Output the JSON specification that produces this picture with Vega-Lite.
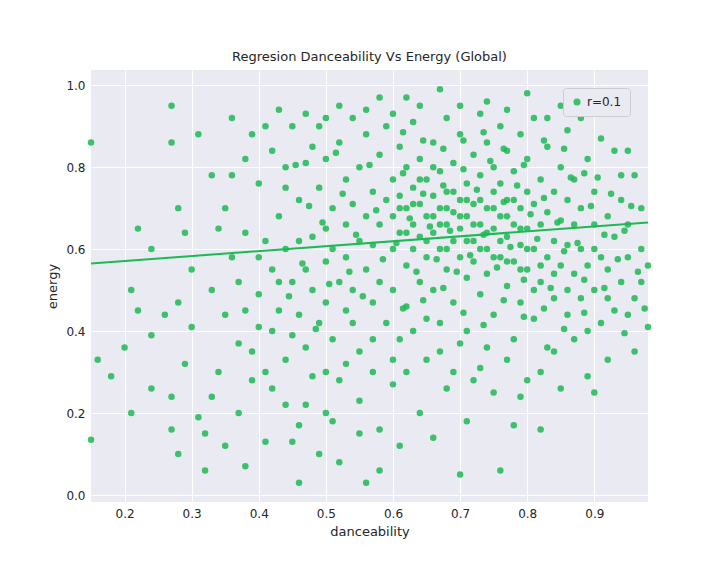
{
  "$schema": "https://vega.github.io/schema/vega-lite/v6.json",
  "autosize": "none",
  "width": 557,
  "height": 432,
  "padding": {"left": 91, "top": 70, "right": 72, "bottom": 74},
  "background": "white",
  "title": {"text": "Regresion Danceability Vs Energy (Global)", "fontSize": 13, "fontWeight": "normal", "font": "DejaVu Sans", "color": "#262626", "offset": 6},
  "datasets": {
    "pts": [
      {"d":0.15,"e":0.86},{"d":0.15,"e":0.135},{"d":0.16,"e":0.33},{"d":0.18,"e":0.29},{"d":0.2,"e":0.36},{"d":0.21,"e":0.5},{"d":0.21,"e":0.2},{"d":0.22,"e":0.65},{"d":0.22,"e":0.45},{"d":0.24,"e":0.6},{"d":0.24,"e":0.26},{"d":0.24,"e":0.39},{"d":0.26,"e":0.44},{"d":0.27,"e":0.95},{"d":0.27,"e":0.86},{"d":0.27,"e":0.16},{"d":0.27,"e":0.24},{"d":0.28,"e":0.1},{"d":0.28,"e":0.7},{"d":0.28,"e":0.47},{"d":0.29,"e":0.64},{"d":0.29,"e":0.32},{"d":0.3,"e":0.55},{"d":0.3,"e":0.41},{"d":0.31,"e":0.88},{"d":0.31,"e":0.19},{"d":0.32,"e":0.06},{"d":0.32,"e":0.15},{"d":0.33,"e":0.78},{"d":0.33,"e":0.5},{"d":0.33,"e":0.24},{"d":0.34,"e":0.65},{"d":0.34,"e":0.3},{"d":0.35,"e":0.44},{"d":0.35,"e":0.12},{"d":0.36,"e":0.92},{"d":0.36,"e":0.58},{"d":0.37,"e":0.2},{"d":0.38,"e":0.07},{"d":0.38,"e":0.82},{"d":0.39,"e":0.35},{"d":0.4,"e":0.49},{"d":0.41,"e":0.62},{"d":0.41,"e":0.13},{"d":0.42,"e":0.26},{"d":0.43,"e":0.94},{"d":0.44,"e":0.75},{"d":0.45,"e":0.39},{"d":0.45,"e":0.13},{"d":0.46,"e":0.03},{"d":0.47,"e":0.55},{"d":0.47,"e":0.22},{"d":0.48,"e":0.85},{"d":0.49,"e":0.1},{"d":0.5,"e":0.3},{"d":0.5,"e":0.65},{"d":0.51,"e":0.18},{"d":0.52,"e":0.08},{"d":0.53,"e":0.45},{"d":0.54,"e":0.92},{"d":0.55,"e":0.23},{"d":0.56,"e":0.03},{"d":0.57,"e":0.38},{"d":0.58,"e":0.06},{"d":0.58,"e":0.16},{"d":0.6,"e":0.27},{"d":0.61,"e":0.12},{"d":0.62,"e":0.97},{"d":0.64,"e":0.2},{"d":0.66,"e":0.14},{"d":0.68,"e":0.26},{"d":0.7,"e":0.05},{"d":0.71,"e":0.18},{"d":0.73,"e":0.31},{"d":0.76,"e":0.06},{"d":0.78,"e":0.17},{"d":0.8,"e":0.28},{"d":0.82,"e":0.16},{"d":0.85,"e":0.26},{"d":0.87,"e":0.38},{"d":0.89,"e":0.29},{"d":0.9,"e":0.25},{"d":0.92,"e":0.33},{"d":0.95,"e":0.44},{"d":0.96,"e":0.35},{"d":0.97,"e":0.52},{"d":0.98,"e":0.41},{"d":0.93,"e":0.84},{"d":0.95,"e":0.84},{"d":0.9,"e":0.6},{"d":0.97,"e":0.6},{"d":0.94,"e":0.72},{"d":0.96,"e":0.78},{"d":0.92,"e":0.48},{"d":0.88,"e":0.92},{"d":0.85,"e":0.95},{"d":0.8,"e":0.98},{"d":0.74,"e":0.96},{"d":0.67,"e":0.99},{"d":0.58,"e":0.97},
      {"d":0.35,"e":0.7},{"d":0.37,"e":0.52},{"d":0.38,"e":0.64},{"d":0.39,"e":0.88},{"d":0.4,"e":0.41},{"d":0.4,"e":0.76},{"d":0.41,"e":0.3},{"d":0.42,"e":0.55},{"d":0.42,"e":0.84},{"d":0.43,"e":0.68},{"d":0.43,"e":0.45},{"d":0.44,"e":0.33},{"d":0.44,"e":0.6},{"d":0.45,"e":0.9},{"d":0.45,"e":0.52},{"d":0.46,"e":0.72},{"d":0.46,"e":0.44},{"d":0.47,"e":0.81},{"d":0.47,"e":0.36},{"d":0.48,"e":0.63},{"d":0.48,"e":0.5},{"d":0.49,"e":0.75},{"d":0.49,"e":0.42},{"d":0.49,"e":0.9},{"d":0.5,"e":0.57},{"d":0.5,"e":0.82},{"d":0.5,"e":0.47},{"d":0.51,"e":0.7},{"d":0.51,"e":0.38},{"d":0.51,"e":0.6},{"d":0.52,"e":0.86},{"d":0.52,"e":0.52},{"d":0.52,"e":0.28},{"d":0.53,"e":0.66},{"d":0.53,"e":0.77},{"d":0.53,"e":0.58},{"d":0.54,"e":0.42},{"d":0.54,"e":0.71},{"d":0.54,"e":0.5},{"d":0.55,"e":0.8},{"d":0.55,"e":0.62},{"d":0.55,"e":0.35},{"d":0.56,"e":0.68},{"d":0.56,"e":0.55},{"d":0.56,"e":0.88},{"d":0.57,"e":0.74},{"d":0.57,"e":0.47},{"d":0.57,"e":0.61},{"d":0.58,"e":0.83},{"d":0.58,"e":0.66},{"d":0.58,"e":0.52},{"d":0.59,"e":0.72},{"d":0.59,"e":0.42},{"d":0.59,"e":0.9},{"d":0.6,"e":0.6},{"d":0.6,"e":0.77},{"d":0.6,"e":0.68},{"d":0.6,"e":0.5},{"d":0.61,"e":0.85},{"d":0.61,"e":0.64},{"d":0.61,"e":0.73},{"d":0.61,"e":0.38},{"d":0.62,"e":0.56},{"d":0.62,"e":0.7},{"d":0.62,"e":0.8},{"d":0.62,"e":0.46},{"d":0.63,"e":0.66},{"d":0.63,"e":0.75},{"d":0.63,"e":0.6},{"d":0.63,"e":0.91},{"d":0.64,"e":0.71},{"d":0.64,"e":0.52},{"d":0.64,"e":0.82},{"d":0.64,"e":0.63},{"d":0.65,"e":0.68},{"d":0.65,"e":0.77},{"d":0.65,"e":0.58},{"d":0.65,"e":0.43},{"d":0.66,"e":0.73},{"d":0.66,"e":0.64},{"d":0.66,"e":0.86},{"d":0.66,"e":0.5},{"d":0.67,"e":0.7},{"d":0.67,"e":0.6},{"d":0.67,"e":0.79},{"d":0.67,"e":0.35},{"d":0.68,"e":0.66},{"d":0.68,"e":0.74},{"d":0.68,"e":0.55},{"d":0.68,"e":0.92},{"d":0.69,"e":0.69},{"d":0.69,"e":0.62},{"d":0.69,"e":0.81},{"d":0.69,"e":0.47},{"d":0.7,"e":0.72},{"d":0.7,"e":0.58},{"d":0.7,"e":0.65},{"d":0.7,"e":0.88},{"d":0.71,"e":0.76},{"d":0.71,"e":0.53},{"d":0.71,"e":0.68},{"d":0.71,"e":0.4},{"d":0.72,"e":0.62},{"d":0.72,"e":0.83},{"d":0.72,"e":0.71},{"d":0.72,"e":0.57},{"d":0.73,"e":0.66},{"d":0.73,"e":0.78},{"d":0.73,"e":0.49},{"d":0.73,"e":0.93},{"d":0.74,"e":0.7},{"d":0.74,"e":0.6},{"d":0.74,"e":0.86},{"d":0.74,"e":0.54},{"d":0.75,"e":0.74},{"d":0.75,"e":0.65},{"d":0.75,"e":0.8},{"d":0.75,"e":0.44},{"d":0.76,"e":0.68},{"d":0.76,"e":0.58},{"d":0.76,"e":0.9},{"d":0.76,"e":0.76},{"d":0.77,"e":0.63},{"d":0.77,"e":0.72},{"d":0.77,"e":0.51},{"d":0.77,"e":0.84},{"d":0.78,"e":0.66},{"d":0.78,"e":0.57},{"d":0.78,"e":0.79},{"d":0.78,"e":0.38},{"d":0.79,"e":0.7},{"d":0.79,"e":0.61},{"d":0.79,"e":0.88},{"d":0.79,"e":0.47},{"d":0.8,"e":0.74},{"d":0.8,"e":0.55},{"d":0.8,"e":0.65},{"d":0.8,"e":0.82},{"d":0.81,"e":0.6},{"d":0.81,"e":0.71},{"d":0.81,"e":0.43},{"d":0.81,"e":0.92},{"d":0.82,"e":0.66},{"d":0.82,"e":0.52},{"d":0.82,"e":0.77},{"d":0.83,"e":0.58},{"d":0.83,"e":0.69},{"d":0.83,"e":0.85},{"d":0.83,"e":0.36},{"d":0.84,"e":0.62},{"d":0.84,"e":0.74},{"d":0.84,"e":0.48},{"d":0.85,"e":0.67},{"d":0.85,"e":0.56},{"d":0.85,"e":0.8},{"d":0.86,"e":0.61},{"d":0.86,"e":0.72},{"d":0.86,"e":0.44},{"d":0.86,"e":0.89},{"d":0.87,"e":0.54},{"d":0.87,"e":0.66},{"d":0.87,"e":0.77},{"d":0.88,"e":0.6},{"d":0.88,"e":0.48},{"d":0.88,"e":0.7},{"d":0.89,"e":0.82},{"d":0.89,"e":0.56},{"d":0.89,"e":0.4},{"d":0.9,"e":0.66},{"d":0.9,"e":0.74},{"d":0.9,"e":0.5},{"d":0.91,"e":0.58},{"d":0.91,"e":0.87},{"d":0.91,"e":0.42},{"d":0.92,"e":0.68},{"d":0.92,"e":0.55},{"d":0.93,"e":0.63},{"d":0.93,"e":0.45},{"d":0.94,"e":0.52},{"d":0.94,"e":0.78},{"d":0.95,"e":0.58},{"d":0.95,"e":0.66},{"d":0.96,"e":0.48},{"d":0.97,"e":0.7},{"d":0.98,"e":0.56},
      {"d":0.6,"e":0.33},{"d":0.62,"e":0.3},{"d":0.63,"e":0.4},{"d":0.65,"e":0.33},{"d":0.67,"e":0.42},{"d":0.69,"e":0.3},{"d":0.7,"e":0.37},{"d":0.72,"e":0.28},{"d":0.74,"e":0.36},{"d":0.75,"e":0.25},{"d":0.77,"e":0.33},{"d":0.79,"e":0.24},{"d":0.82,"e":0.3},{"d":0.84,"e":0.35},{"d":0.57,"e":0.3},{"d":0.55,"e":0.15},{"d":0.53,"e":0.32},{"d":0.5,"e":0.2},{"d":0.48,"e":0.29},{"d":0.46,"e":0.17},{"d":0.44,"e":0.22},{"d":0.42,"e":0.4},{"d":0.39,"e":0.28},{"d":0.37,"e":0.37},{"d":0.36,"e":0.78},{"d":0.38,"e":0.45},{"d":0.4,"e":0.58},{"d":0.41,"e":0.9},{"d":0.43,"e":0.52},{"d":0.44,"e":0.8},{"d":0.46,"e":0.62},{"d":0.47,"e":0.93},{"d":0.5,"e":0.92},{"d":0.52,"e":0.95},{"d":0.56,"e":0.94},{"d":0.6,"e":0.93},{"d":0.64,"e":0.95},{"d":0.7,"e":0.95},{"d":0.77,"e":0.94},{"d":0.83,"e":0.92},{"d":0.65,"e":0.62},{"d":0.66,"e":0.68},{"d":0.67,"e":0.66},{"d":0.68,"e":0.7},{"d":0.69,"e":0.74},{"d":0.7,"e":0.68},{"d":0.71,"e":0.62},{"d":0.72,"e":0.66},{"d":0.73,"e":0.72},{"d":0.74,"e":0.64},{"d":0.75,"e":0.7},{"d":0.76,"e":0.62},{"d":0.77,"e":0.68},{"d":0.78,"e":0.72},{"d":0.79,"e":0.65},{"d":0.8,"e":0.6},{"d":0.61,"e":0.7},{"d":0.62,"e":0.64},{"d":0.63,"e":0.71},{"d":0.64,"e":0.77},{"d":0.66,"e":0.8},{"d":0.68,"e":0.6},{"d":0.71,"e":0.72},{"d":0.73,"e":0.6},{"d":0.75,"e":0.58},{"d":0.77,"e":0.57},{"d":0.79,"e":0.55},{"d":0.81,"e":0.5},{"d":0.82,"e":0.56},{"d":0.84,"e":0.54},{"d":0.86,"e":0.5},
      {"d":0.605,"e":0.615},{"d":0.615,"e":0.785},{"d":0.625,"e":0.675},{"d":0.635,"e":0.545},{"d":0.645,"e":0.735},{"d":0.655,"e":0.655},{"d":0.665,"e":0.575},{"d":0.675,"e":0.755},{"d":0.685,"e":0.645},{"d":0.695,"e":0.545},{"d":0.705,"e":0.795},{"d":0.715,"e":0.585},{"d":0.725,"e":0.745},{"d":0.735,"e":0.635},{"d":0.745,"e":0.815},{"d":0.755,"e":0.555},{"d":0.765,"e":0.715},{"d":0.775,"e":0.605},{"d":0.785,"e":0.755},{"d":0.795,"e":0.525},{"d":0.805,"e":0.685},{"d":0.815,"e":0.625},{"d":0.825,"e":0.725},{"d":0.835,"e":0.505},{"d":0.845,"e":0.665},{"d":0.855,"e":0.595},{"d":0.865,"e":0.775},{"d":0.875,"e":0.615},{"d":0.885,"e":0.525},{"d":0.895,"e":0.705},
      {"d":0.585,"e":0.575},{"d":0.575,"e":0.695},{"d":0.565,"e":0.805},{"d":0.555,"e":0.485},{"d":0.545,"e":0.635},{"d":0.535,"e":0.545},{"d":0.525,"e":0.735},{"d":0.515,"e":0.835},{"d":0.505,"e":0.515},{"d":0.495,"e":0.665},{"d":0.485,"e":0.405},{"d":0.475,"e":0.705},{"d":0.465,"e":0.565},{"d":0.455,"e":0.805},{"d":0.445,"e":0.485},
      {"d":0.615,"e":0.885},{"d":0.645,"e":0.865},{"d":0.675,"e":0.845},{"d":0.705,"e":0.865},{"d":0.735,"e":0.885},{"d":0.765,"e":0.845},{"d":0.795,"e":0.805},{"d":0.825,"e":0.865},{"d":0.855,"e":0.845},{"d":0.885,"e":0.785},
      {"d":0.615,"e":0.455},{"d":0.645,"e":0.475},{"d":0.675,"e":0.505},{"d":0.705,"e":0.445},{"d":0.735,"e":0.415},{"d":0.765,"e":0.475},{"d":0.795,"e":0.435},{"d":0.825,"e":0.455},{"d":0.855,"e":0.405},{"d":0.885,"e":0.445},{"d":0.915,"e":0.505},{"d":0.935,"e":0.575},{"d":0.945,"e":0.645},{"d":0.965,"e":0.545},{"d":0.915,"e":0.635},{"d":0.905,"e":0.775},{"d":0.925,"e":0.735},{"d":0.945,"e":0.395},{"d":0.955,"e":0.705},{"d":0.975,"e":0.455}
    ],
    "fit": [{"d":0.15,"e":0.565},{"d":0.98,"e":0.665}]
  },
  "layer": [
    {
      "data": {"name": "pts"},
      "mark": {"type": "circle", "size": 42, "opacity": 0.85},
      "encoding": {
        "x": {"field": "d", "type": "quantitative", "scale": {"domain": [0.15, 0.98], "nice": false, "zero": false}, "axis": {"title": "danceability", "values": [0.2,0.3,0.4,0.5,0.6,0.7,0.8,0.9], "format": ".1f"}},
        "y": {"field": "e", "type": "quantitative", "scale": {"domain": [-0.017, 1.037], "nice": false}, "axis": {"title": "energy", "values": [0,0.2,0.4,0.6,0.8,1.0], "format": ".1f"}},
        "color": {"datum": "r=0.1", "type": "nominal", "scale": {"range": ["#1DB954"]}, "legend": {"title": null, "orient": "top-right", "fillColor": "#EAEAF2", "strokeColor": "#cccccc", "padding": 8, "cornerRadius": 3, "labelFontSize": 12, "symbolSize": 50, "symbolOpacity": 0.85}}
      }
    },
    {
      "data": {"name": "fit"},
      "mark": {"type": "line", "color": "#1DB954", "strokeWidth": 2},
      "encoding": {"x": {"field": "d", "type": "quantitative"}, "y": {"field": "e", "type": "quantitative"}}
    }
  ],
  "config": {
    "font": "DejaVu Sans",
    "view": {"fill": "#EAEAF2", "stroke": null},
    "axis": {"grid": true, "gridColor": "white", "gridWidth": 1, "domain": false, "ticks": false, "labelFontSize": 12, "titleFontSize": 13, "titleFontWeight": "normal", "labelColor": "#262626", "titleColor": "#262626", "labelPadding": 6, "titlePadding": 6},
    "legend": {"labelColor": "#262626"}
  }
}
